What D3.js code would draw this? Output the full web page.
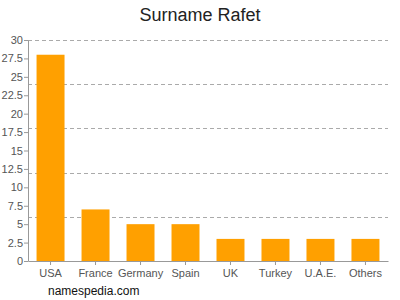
<!DOCTYPE html>
<html>
<head>
<meta charset="utf-8">
<script src="https://cdn.jsdelivr.net/npm/d3@7"></script>
<style>
  body { margin: 0; background: #fff; }
  svg { display: block; font-family: "Liberation Sans", Arial, sans-serif; }
</style>
</head>
<body>
<div id="chart"></div>
<script>
var countries = ["USA", "France", "Germany", "Spain", "UK", "Turkey", "U.A.E.", "Others"];
var counts = [28, 7, 5, 5, 3, 3, 3, 3];
var yTicks = [0, 2.5, 5, 7.5, 10, 12.5, 15, 17.5, 20, 22.5, 25, 27.5, 30];
var gridValues = [6, 12, 18, 24, 30];

var margin = { top: 40, right: 12, bottom: 39, left: 28 },
  width = 400 - margin.left - margin.right,
  height = 300 - margin.top - margin.bottom;

var svg = d3.select("#chart")
  .append("svg")
  .attr("width", 400)
  .attr("height", 300);

var g = svg.append("g")
  .attr("transform", "translate(" + margin.left + "," + margin.top + ")");

var x = d3.scaleBand()
  .domain(countries)
  .range([0, width])
  .paddingInner(0.378)
  .paddingOuter(0.19);

var y = d3.scaleLinear()
  .domain([0, 30])
  .range([height, 0]);

// dashed grid
g.selectAll(".grid")
  .data(gridValues)
  .enter()
  .append("line")
  .attr("x1", 0)
  .attr("x2", width)
  .attr("y1", function (d) { return Math.round(y(d)) + 0.5; })
  .attr("y2", function (d) { return Math.round(y(d)) + 0.5; })
  .attr("stroke", "#aaa")
  .attr("stroke-dasharray", "4,3");

g.selectAll(".bar")
  .data(countries)
  .enter()
  .append("rect")
  .attr("x", function (d) { return x(d); })
  .attr("y", function (d, i) { return y(counts[i]); })
  .attr("width", x.bandwidth())
  .attr("height", function (d, i) { return height - y(counts[i]); })
  .attr("fill", "#ffa000");

var yAxis = g.append("g")
  .call(d3.axisLeft(y).tickValues(yTicks).tickFormat(function (d) { return String(d); })
    .tickSize(4).tickSizeOuter(0));

var xAxis = g.append("g")
  .attr("transform", "translate(0," + height + ")")
  .call(d3.axisBottom(x).tickSize(4).tickSizeOuter(0));

[yAxis, xAxis].forEach(function (ax) {
  ax.select(".domain").attr("stroke", "#999");
  ax.selectAll(".tick line").attr("stroke", "#999");
  ax.selectAll("text")
    .attr("fill", "#555")
    .style("font-size", "11px")
    .style("font-family", "Liberation Sans, Arial, sans-serif");
});
yAxis.selectAll("text").attr("x", -5);
xAxis.selectAll("text").attr("y", 8);

svg.append("text")
  .attr("x", 200)
  .attr("y", 21)
  .attr("text-anchor", "middle")
  .style("font-size", "18px")
  .attr("fill", "#222")
  .text("Surname Rafet");

svg.append("text")
  .attr("x", 48)
  .attr("y", 295)
  .style("font-size", "12px")
  .attr("fill", "#111")
  .text("namespedia.com");
</script>
</body>
</html>
